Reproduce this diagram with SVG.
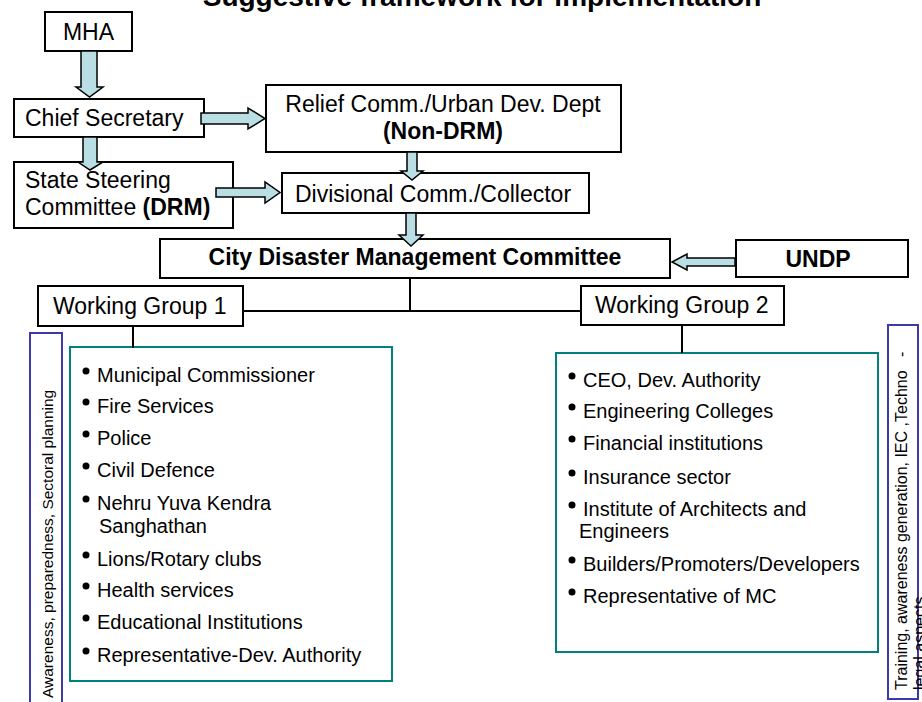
<svg xmlns="http://www.w3.org/2000/svg" width="922" height="702" viewBox="0 0 922 702">
<style>
.box{fill:#fff;stroke:#000;stroke-width:2}
.t{font-family:"Liberation Sans",Arial,sans-serif;font-size:23px;fill:#000}
.b{font-weight:bold}
.li{font-family:"Liberation Sans",Arial,sans-serif;font-size:20px;fill:#000}
.side{font-family:"Liberation Sans",Arial,sans-serif;font-size:16px;fill:#000;white-space:pre}
.list{fill:#fff;stroke:#008080;stroke-width:2}
.blue{fill:#fff;stroke:#3b3ba8;stroke-width:2}
.arr{fill:#b9dfe4;stroke:#000;stroke-width:1.5;stroke-linejoin:miter}
.ln{stroke:#000;stroke-width:2;fill:none}
</style>
<text x="482" y="6" text-anchor="middle" class="t b" style="font-size:28px">Suggestive framework for implementation</text>

<g id="mha"><rect class="box" x="45" y="12" width="87" height="39"/><text class="t" x="88.5" y="40" text-anchor="middle">MHA</text></g>
<g id="chief-secretary"><rect class="box" x="14" y="99" width="190" height="38"/><text class="t" x="25" y="126">Chief Secretary</text></g>
<g id="relief"><rect class="box" x="266" y="85" width="355" height="67"/><text class="t" x="443" y="112" text-anchor="middle">Relief Comm./Urban Dev. Dept</text><text class="t b" x="443" y="139" text-anchor="middle">(Non-DRM)</text></g>
<g id="state-steering"><rect class="box" x="14" y="162" width="219" height="66"/><text class="t" x="25" y="188">State Steering</text><text class="t" x="25" y="215">Committee <tspan class="b">(DRM)</tspan></text></g>
<g id="divisional"><rect class="box" x="282" y="173" width="307" height="40"/><text class="t" x="295" y="202">Divisional Comm./Collector</text></g>
<g id="cdmc"><rect class="box" x="160" y="239" width="510" height="39"/><text class="t b" x="415" y="265" text-anchor="middle">City Disaster Management Committee</text></g>
<g id="undp"><rect class="box" x="736" y="240" width="172" height="37"/><text class="t b" x="818" y="267" text-anchor="middle">UNDP</text></g>
<g id="wg1"><rect class="box" x="38" y="286" width="205" height="40"/><text class="t" x="53" y="314">Working Group 1</text></g>
<g id="wg2"><rect class="box" x="581" y="286" width="203" height="39"/><text class="t" x="595" y="313">Working Group 2</text></g>

<g id="wg1-members">
<rect class="list" x="70" y="347" width="322" height="334"/>
<g class="li">
<circle cx="86" cy="371" r="3.5"/><text x="97" y="382">Municipal Commissioner</text>
<circle cx="86" cy="402" r="3.5"/><text x="97" y="413">Fire Services</text>
<circle cx="86" cy="434" r="3.5"/><text x="97" y="445">Police</text>
<circle cx="86" cy="466" r="3.5"/><text x="97" y="477">Civil Defence</text>
<circle cx="86" cy="499" r="3.5"/><text x="97" y="510">Nehru Yuva Kendra</text>
<text x="99" y="533">Sanghathan</text>
<circle cx="86" cy="555" r="3.5"/><text x="97" y="566">Lions/Rotary clubs</text>
<circle cx="86" cy="586" r="3.5"/><text x="97" y="597">Health services</text>
<circle cx="86" cy="618" r="3.5"/><text x="97" y="629">Educational Institutions</text>
<circle cx="86" cy="651" r="3.5"/><text x="97" y="662">Representative-Dev. Authority</text>
</g>
</g>

<g id="wg2-members">
<rect class="list" x="556" y="353" width="322" height="299"/>
<g class="li">
<circle cx="572" cy="376" r="3.5"/><text x="583" y="387">CEO, Dev. Authority</text>
<circle cx="572" cy="407" r="3.5"/><text x="583" y="418">Engineering Colleges</text>
<circle cx="572" cy="439" r="3.5"/><text x="583" y="450">Financial institutions</text>
<circle cx="572" cy="473" r="3.5"/><text x="583" y="484">Insurance sector</text>
<circle cx="572" cy="505" r="3.5"/><text x="583" y="516">Institute of Architects and</text>
<text x="579" y="538">Engineers</text>
<circle cx="572" cy="560" r="3.5"/><text x="583" y="571">Builders/Promoters/Developers</text>
<circle cx="572" cy="592" r="3.5"/><text x="583" y="603">Representative of MC</text>
</g>
</g>

<g id="wg1-focus">
<rect class="blue" x="30" y="333" width="32" height="380"/>
<text class="side" style="font-size:15.5px" transform="translate(53,698) rotate(-90)">Awareness, preparedness, Sectoral planning</text>
</g>
<g id="wg2-focus">
<rect class="blue" x="888" y="325" width="30" height="374"/>
<text class="side" transform="translate(907,690) rotate(-90)">Training, awareness generation, IEC ,Techno   -</text>
<text class="side" transform="translate(925,690) rotate(-90)">legal aspects</text>
</g>

<g id="connectors">
<polygon class="arr" points="81,51 97,51 97,87 103,87 89.5,97 76,87 81,87"/>
<polygon class="arr" points="83,137 97,137 97,162 103,162 90,170 78,162 83,162"/>
<polygon class="arr" points="201,113 248,113 248,108 265,118.5 248,129 248,124 201,124"/>
<polygon class="arr" points="216,188 265,188 265,182 280,192.5 265,203 265,197 216,197"/>
<polygon class="arr" points="407,152 417,152 417,171 423,171 412,180 401,171 407,171"/>
<polygon class="arr" points="406,213 416,213 416,235 423,235 411,246 399,235 406,235"/>
<polygon class="arr" points="735,258 687,258 687,254 672,262 687,270 687,266 735,266"/>
<path class="ln" d="M410,278 V311 M243,311 H581 M133,326 V348 M682,325 V353"/>
</g>
</svg>
